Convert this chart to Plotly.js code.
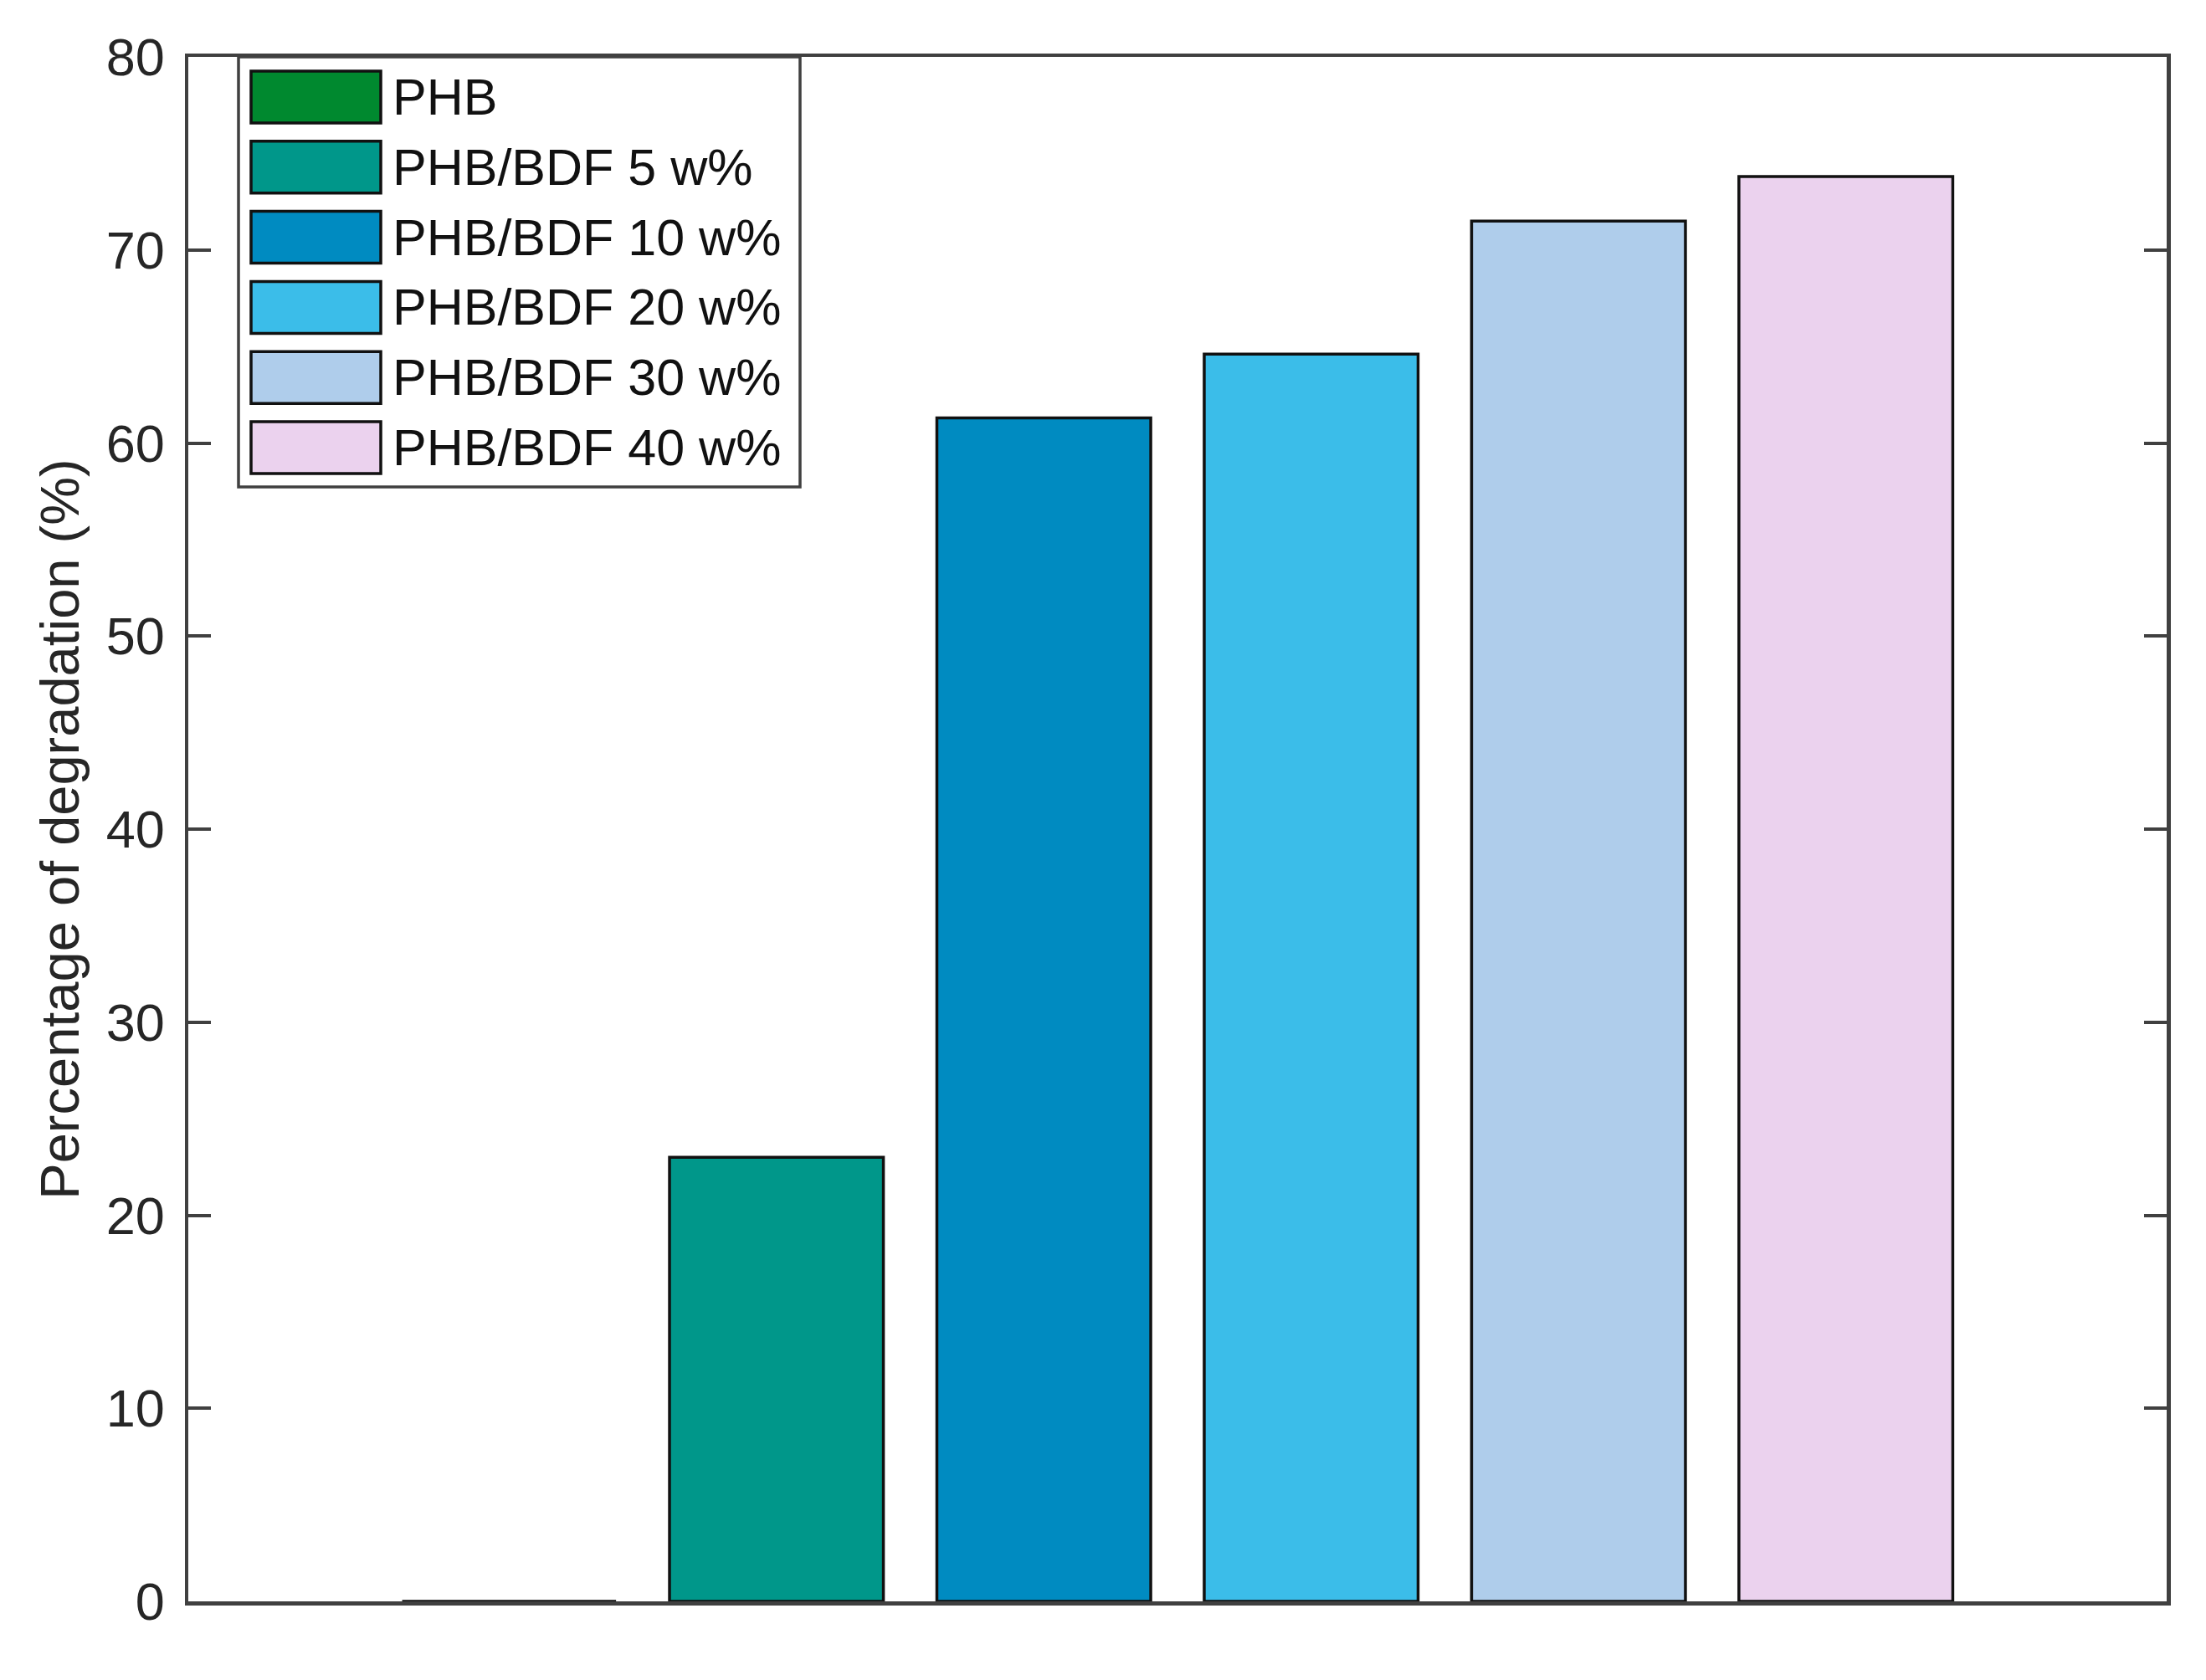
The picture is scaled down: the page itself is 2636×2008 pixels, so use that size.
<!DOCTYPE html>
<html>
<head>
<meta charset="utf-8">
<script src="https://cdn.plot.ly/plotly-3.0.1.min.js"></script>
<style>html,body{margin:0;padding:0;background:#fff;}#chart{width:2636px;height:2008px;}</style>
</head>
<body>
<div id="chart"></div>
<script>
// ---- data ----
const categories = ['PHB', 'PHB/BDF 5 w%', 'PHB/BDF 10 w%', 'PHB/BDF 20 w%', 'PHB/BDF 30 w%', 'PHB/BDF 40 w%'];
const xPositions = [1, 2, 3, 4, 5, 6];
const degradation = [0, 23.0, 61.3, 64.6, 71.5, 73.8];
const barColors = ['#00892F', '#00978A', '#008BC1', '#3BBDE9', '#AFCDEB', '#EBD2EE'];
const yTicks = [0, 10, 20, 30, 40, 50, 60, 70, 80];

// ---- layout geometry (pixels) ----
const W = 2636, H = 2008;
const L = 225, R = 2589, T = 68, B = 1914;
const px = x => (x - L) / (R - L);
const py = y => (B - y) / (B - T);
const FONT = 'Liberation Sans, Arial, Helvetica, sans-serif';
const AX = '#404040';

const traces = categories.map((name, i) => ({
  type: 'bar',
  name: name,
  x: [xPositions[i]],
  y: [degradation[i]],
  width: 0.8,
  marker: {color: barColors[i], line: {color: '#111111', width: 3.5}},
  showlegend: false,
  hoverinfo: 'name+y'
}));

// manual legend (large swatches)
const shapes = [{
  type: 'rect', xref: 'paper', yref: 'paper',
  x0: px(285), x1: px(956), y0: py(582), y1: py(68),
  fillcolor: '#ffffff', line: {color: AX, width: 3.5}, layer: 'above'
}];
const annotations = [];
categories.forEach((name, i) => {
  const top = 85 + i * 83.8, bot = top + 62;
  shapes.push({
    type: 'rect', xref: 'paper', yref: 'paper',
    x0: px(300), x1: px(455), y0: py(bot), y1: py(top),
    fillcolor: barColors[i], line: {color: '#111111', width: 3.5}, layer: 'above'
  });
  annotations.push({
    xref: 'paper', yref: 'paper', x: px(467), y: py((top + bot) / 2),
    xanchor: 'left', yanchor: 'middle', showarrow: false,
    text: name, font: {family: FONT, size: 61, color: '#111111'}
  });
});

const layout = {
  width: W, height: H,
  margin: {l: L, r: W - R, t: T, b: H - B, pad: 0},
  paper_bgcolor: '#ffffff', plot_bgcolor: '#ffffff',
  barmode: 'overlay',
  showlegend: false,
  font: {family: FONT, color: '#262626'},
  xaxis: {
    range: [-0.2, 7.2], showticklabels: false, ticks: '',
    showgrid: false, zeroline: false,
    showline: true, linecolor: AX, linewidth: 4.5, mirror: true, fixedrange: true
  },
  yaxis: {
    range: [0, 80], tickvals: yTicks, ticktext: yTicks.map(String),
    ticks: 'inside', ticklen: 27, tickwidth: 4, tickcolor: AX,
    showgrid: false, zeroline: false,
    showline: true, linecolor: AX, linewidth: 4.5, mirror: 'ticks',
    tickfont: {family: FONT, size: 63, color: '#262626'},
    ticklabelstandoff: 11,
    title: {text: 'Percentage of degradation (%)', standoff: 12,
            font: {family: FONT, size: 65, color: '#262626'}},
    automargin: false, fixedrange: true
  },
  shapes: shapes,
  annotations: annotations
};

Plotly.newPlot('chart', traces, layout, {staticPlot: true, displayModeBar: false});
</script>
</body>
</html>
